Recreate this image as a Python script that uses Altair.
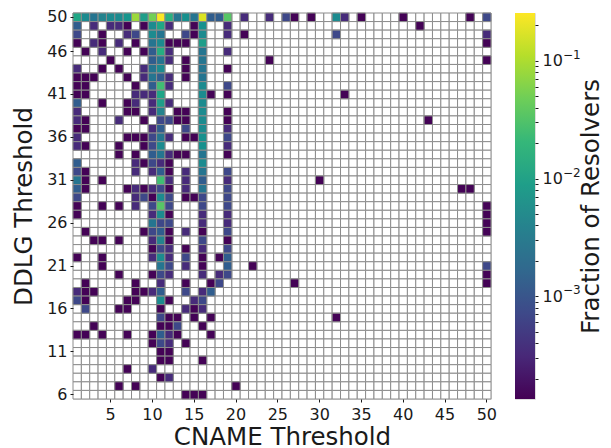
import altair as alt
import pandas as pd

A, B, C, D, E, F, G, H, I, J = 1.4e-4, 3.3e-4, 7e-4, 1.2e-3, 2.5e-3, 5e-3, 1e-2, 2.5e-2, 5e-2, 8.3e-2
K, L = 2.5e-1, 1.7e-1

r50 = [(1,.012),(2,F),(3,E),(4,.004),(5,F),(6,F),(7,.007),(8,J),(9,.009),(10,I),(11,K),(12,.016),(13,E),(14,.006),(15,E),(16,L),(17,D),(18,D),(19,.035),(21,B),(24,B),(26,C),(27,A),(29,A),(32,F),(33,B),(35,A),(40,A),(48,A),(50,C)]
r49 = [(1,D),(3,B),(5,B),(6,B),(7,A),(9,A),(10,F),(11,.012),(12,B),(15,A),(16,.006),(19,B),(42,A)]
r48 = [(1,C),(4,A),(7,B),(8,C),(10,F),(11,E),(14,C),(15,A),(16,F),(19,B),(21,A),(32,C),(50,B)]
r47 = [(1,A),(3,B),(4,A),(6,B),(8,A),(10,E),(11,F),(12,A),(13,A),(14,A),(16,.009),(50,A)]
r46 = [(2,A),(4,B),(7,A),(9,A),(10,D),(11,.015),(12,B),(16,E),(19,B)]
r45 = [(5,A),(10,D),(11,E),(12,B),(14,A),(16,E),(24,A),(50,A)]
r44 = [(1,B),(4,A),(6,A),(9,B),(10,E),(11,F),(14,A),(16,E),(19,A)]
r43 = [(1,A),(2,A),(3,A),(7,A),(9,B),(10,E),(11,D),(12,B),(14,A),(16,E)]
r42 = [(1,A),(2,A),(8,A),(10,D),(11,H),(12,B),(16,F),(19,C)]
r41 = [(1,A),(2,A),(8,B),(9,B),(10,B),(11,.011),(16,F),(17,A),(19,A),(33,A)]
r40 = [(1,D),(4,A),(7,A),(8,B),(10,B),(11,.009),(12,B),(16,F)]
r39 = [(1,B),(7,A),(8,A),(10,B),(11,.004),(13,A),(14,A),(16,F),(19,A)]
r38 = [(1,B),(2,A),(6,B),(9,A),(11,C),(12,C),(13,A),(14,A),(16,F),(19,A),(43,A)]
r37 = [(1,A),(2,A),(10,B),(11,D),(14,C),(16,F),(19,B)]
r36 = [(1,B),(7,A),(8,A),(9,A),(10,C),(11,E),(12,B),(14,A),(15,A),(16,.006),(19,C)]
r35 = [(1,B),(2,A),(6,A),(9,A),(10,C),(11,F),(16,.006),(19,B)]
r34 = [(6,A),(8,A),(10,D),(11,E),(12,B),(13,A),(14,A),(16,E),(19,A)]
r33 = [(1,D),(8,B),(9,A),(10,C),(11,B),(12,A),(16,F)]
r32 = [(1,C),(2,A),(8,B),(10,B),(11,D),(12,A),(14,B),(16,E),(19,C)]
r31 = [(1,E),(2,A),(4,A),(11,H),(12,B),(14,B),(16,D),(19,B),(30,A)]
r30 = [(1,D),(2,A),(7,A),(8,B),(9,A),(10,B),(11,C),(12,A),(14,B),(16,E),(19,C),(47,A),(48,A)]
r29 = [(1,C),(8,B),(9,C),(10,A),(11,F),(12,C),(14,A),(15,A),(16,C),(19,C)]
r28 = [(1,A),(4,A),(6,A),(8,B),(10,C),(11,.035),(12,C),(16,C),(19,C),(50,A)]
r27 = [(1,A),(10,B),(11,F),(12,A),(16,B),(19,B),(50,A)]
r26 = [(10,E),(11,C),(12,C),(16,B),(19,B),(50,A)]
r25 = [(2,A),(9,A),(10,C),(11,D),(12,A),(14,B),(16,A),(19,C),(50,A)]
r24 = [(3,A),(4,A),(6,A),(10,B),(11,.004),(12,A),(16,C),(19,A)]
r23 = [(10,A),(11,C),(12,B),(14,A),(16,B),(19,C)]
r22 = [(1,A),(4,A),(10,B),(11,F),(12,B),(14,C),(16,A),(18,A),(19,D)]
r21 = [(4,A),(11,E),(12,C),(14,B),(16,A),(19,D),(22,A),(50,C)]
r20 = [(6,A),(10,A),(11,C),(12,B),(16,B),(18,B),(19,C),(50,A)]
r19 = [(2,A),(8,A),(11,B),(14,A),(17,A),(18,C),(27,A),(50,A)]
r18 = [(1,B),(2,A),(3,A),(8,A),(9,A),(10,B),(11,D),(14,C),(16,B),(17,D)]
r17 = [(1,C),(2,A),(7,A),(8,A),(11,F),(12,A),(15,B),(16,C)]
r16 = [(2,C),(6,A),(7,A),(11,A),(14,B),(15,A),(16,B)]
r15 = [(11,C),(12,A),(13,A),(15,A),(17,A),(32,A)]
r14 = [(3,A),(11,A),(12,A),(13,C),(16,A)]
r13 = [(1,A),(2,A),(4,A),(7,A),(10,A),(11,D),(12,B),(13,A),(17,A)]
r12 = [(10,A),(11,C),(12,B),(14,A)]
r11 = [(11,A),(12,A)]
r10 = [(11,A),(12,A),(16,A)]
r9 = [(7,A),(10,B)]
r8 = [(11,A),(12,B)]
r7 = [(6,A),(8,A),(20,A)]
r6 = [(14,A),(15,A),(16,A)]

table = {50:r50,49:r49,48:r48,47:r47,46:r46,45:r45,44:r44,43:r43,42:r42,41:r41,40:r40,39:r39,38:r38,37:r37,
         36:r36,35:r35,34:r34,33:r33,32:r32,31:r31,30:r30,29:r29,28:r28,27:r27,26:r26,25:r25,24:r24,23:r23,
         22:r22,21:r21,20:r20,19:r19,18:r18,17:r17,16:r16,15:r15,14:r14,13:r13,12:r12,11:r11,10:r10,9:r9,8:r8,7:r7,6:r6}

cols = list(range(1, 51))
rows = list(range(50, 5, -1))
x_ticks = [5, 10, 15, 20, 25, 30, 35, 40, 45, 50]
y_ticks = [50, 46, 41, 36, 31, 26, 21, 16, 11, 6]
VMIN, VMAX = 1.34e-4, 2.55e-1
bar_ticks = [2e-4,3e-4,4e-4,5e-4,6e-4,7e-4,8e-4,9e-4,1e-3,2e-3,3e-3,4e-3,5e-3,6e-3,7e-3,8e-3,9e-3,1e-2,
             2e-2,3e-2,4e-2,5e-2,6e-2,7e-2,8e-2,9e-2,1e-1,2e-1]
bar_powers = [1e-3, 1e-2, 1e-1]
bar_exponents = ["−3", "−2", "−1"]
viridis = ["#440154","#482878","#3e4989","#31688e","#26828e","#1f9e89","#35b779","#6ece58","#b5de2b","#fde725"]

cells = pd.DataFrame([{"c": c, "r": r, "v": v} for r, lst in table.items() for c, v in lst])
grid = pd.DataFrame([{"c": c, "r": r} for r in rows for c in cols])

INK = "#1a1a1a"
TITLE = 24.5
x_enc = alt.X("c:O", scale=alt.Scale(domain=cols, paddingInner=0, paddingOuter=0),
              axis=alt.Axis(values=x_ticks, labelAngle=0, title="CNAME Threshold", titleFontSize=TITLE,
                            labelFontSize=16, domain=False, tickSize=3, tickColor=INK, labelColor=INK,
                            titleColor=INK, titleFontWeight="normal", titlePadding=3, labelPadding=4, grid=False))
y_enc = alt.Y("r:O", scale=alt.Scale(domain=rows, paddingInner=0, paddingOuter=0),
              axis=alt.Axis(values=y_ticks, title="DDLG Threshold", titleFontSize=TITLE, labelFontSize=16,
                            domain=False, tickSize=3, tickColor=INK, labelColor=INK, titleColor=INK,
                            titleFontWeight="normal", titlePadding=10, labelPadding=3, grid=False))

back = alt.Chart(grid).mark_rect(fill="white", stroke="#8c8c8c", strokeWidth=1).encode(x=x_enc, y=y_enc)
front = alt.Chart(cells).mark_rect(stroke="#8c8c8c", strokeWidth=1).encode(
    x=x_enc, y=y_enc,
    color=alt.Color("v:Q", legend=None,
                    scale=alt.Scale(type="log", domain=[VMIN, VMAX], range=viridis, nice=False, clamp=True)))
heat = alt.layer(back, front).properties(width=418, height=386)

stops = [alt.GradientStop(color=c, offset=i / (len(viridis) - 1)) for i, c in enumerate(viridis)]
gradient = alt.LinearGradient(gradient="linear", stops=stops, x1=0, x2=0, y1=1, y2=0)
label_expr = "datum.value == 0.001 || datum.value == 0.01 || datum.value == 0.1 ? '10' : ''"
bar_y = alt.Scale(type="log", domain=[VMIN, VMAX], nice=False)
bar_rect = alt.Chart(pd.DataFrame({"lo": [VMIN], "hi": [VMAX]})).mark_rect(color=gradient).encode(
    x=alt.value(0), x2=alt.value(20),
    y=alt.Y("lo:Q", scale=bar_y,
            axis=alt.Axis(orient="right", values=bar_ticks, labelExpr=label_expr, title="Fraction of Resolvers",
                          titleFontSize=TITLE, titleAngle=270, labelFontSize=16, domain=False, tickSize=3, grid=False,
                          tickColor=INK, labelColor=INK, titleColor=INK, titleFontWeight="normal",
                          labelPadding=4, titlePadding=41, labelOverlap=False, labelBound=False)),
    y2="hi:Q")
bar_exp = alt.Chart(pd.DataFrame({"p": bar_powers, "t": bar_exponents})).mark_text(
    align="left", baseline="middle", fontSize=12, dy=-6, color=INK, font="DejaVu Sans").encode(
    x=alt.value(48), y=alt.Y("p:Q", scale=bar_y), text="t:N")
bar = alt.layer(bar_rect, bar_exp).properties(width=20, height=386)

chart = alt.hconcat(heat, bar, spacing=17).properties(
    padding={"left": 3, "top": 0, "right": -2, "bottom": 0}).configure_view(stroke=None).configure(
    font="DejaVu Sans").configure_axis(labelFont="DejaVu Sans", titleFont="DejaVu Sans")

chart.save("out.html", embed_options={"renderer": "svg", "actions": False})
